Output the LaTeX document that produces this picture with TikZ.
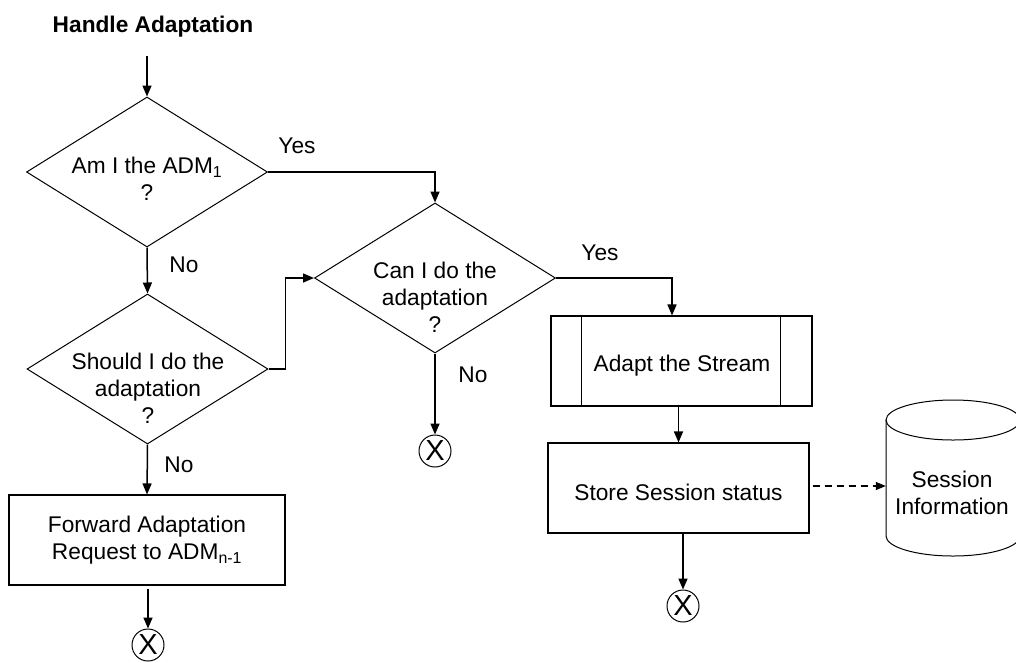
\documentclass[tikz,border=0pt]{standalone}
\usepackage{fontspec}
\setmainfont{Liberation Sans}
\usetikzlibrary{shapes.geometric,arrows.meta}
\begin{document}
\begin{tikzpicture}[x=1pt,y=-1pt,
  every node/.style={font=\fontsize{22.7}{27}\selectfont},
  decision/.style={diamond,draw,line width=1pt,minimum width=241pt,minimum height=150pt,inner sep=0pt},
  txt/.style={align=center,inner sep=0pt},
  procbox/.style={rectangle,draw,line width=1.1pt,inner sep=0pt},
  endmark/.style={circle,draw,line width=1pt,minimum size=32pt,inner sep=0pt,font=\fontsize{29}{29}\selectfont},
  flow/.style={line width=1.5pt,-{Triangle[length=11pt,width=9pt]}},
  branch/.style={inner sep=0pt}
]
\clip (0,0) rectangle (1016,662);

% title
\node[txt,font=\fontsize{22.7}{27}\selectfont\bfseries] (title) at (153,27) {Handle Adaptation};

% decisions
\node[decision] (d1) at (147,172) {};
\node[txt] (t1) at (147,178.5) {Am I the ADM\textsubscript{1}\\?};
\node[decision] (d2) at (435,278) {};
\node[txt] (t2) at (435,297) {Can I do the\\adaptation\\?};
\node[decision] (d3) at (147.5,369) {};
\node[txt] (t3) at (148,388) {Should I do the\\adaptation\\?};

% process boxes
\node[procbox,minimum width=276pt,minimum height=90pt,align=center] (fwd) at (147,540)
  {Forward Adaptation\\Request to ADM\textsubscript{n-1}};
\node[procbox,minimum width=261pt,minimum height=90pt] (adapt) at (681.5,361) {};
\node[txt] (tadapt) at (682,366) {Adapt the Stream};
\draw[line width=1.1pt] ([xshift=31pt]adapt.north west) -- ([xshift=31pt]adapt.south west);
\draw[line width=1.1pt] ([xshift=-32pt]adapt.north east) -- ([xshift=-32pt]adapt.south east);
\node[procbox,minimum width=261pt,minimum height=90pt] (store) at (678.5,488) {};
\node[txt] (tstore) at (678.5,492) {Store Session status};

% session database (cylinder)
\node[inner sep=0pt,minimum width=134pt,minimum height=116pt] (db) at (953,478) {};
\draw[line width=1pt] (953,420) ellipse [x radius=67, y radius=20];
\draw[line width=1pt] (886,420) -- (886,536) arc[start angle=180,end angle=0,x radius=67,y radius=20] -- (1020,420);
\node[txt] (tdb) at (952,493) {Session\\Information};

% end markers
\node[endmark] (c1) at (148,645) {X};
\node[endmark] (c2) at (435,451) {X};
\node[endmark] (c3) at (683,606) {X};

% connectors
\draw[flow] ([yshift=-18pt]title.south -| d1.north) -- (d1.north);
\draw[flow] (d1.east) -| (d2.north);
\draw[flow] (d1.south) -- (d3.north);
\draw[flow] (d3.east) -- ([xshift=17pt]d3.east) |- (d2.west);
\draw[flow] (d3.south) -- (fwd.north);
\draw[flow] ([yshift=-3pt]fwd.south -| c1.north) -- (c1.north);
\draw[flow] (d2.south) -- (c2.north);
\draw[flow] (d2.east) -| ([xshift=-9.5pt]adapt.north);
\draw[flow] (adapt.south -| store.north) -- (store.north);
\draw[flow] (store.south -| c3.north) -- (c3.north);
\draw[line width=1.2pt,dash pattern=on 7pt off 5pt,-{Triangle[length=10pt,width=8pt]}] ([xshift=3pt,yshift=2pt]store.east) -- ([yshift=2pt]store.east -| db.west);

% branch labels
\node[branch] (y1) at (297,146) {Yes};
\node[branch] (n1) at (184,265) {No};
\node[branch] (y2) at (600,253) {Yes};
\node[branch] (n2) at (473,375) {No};
\node[branch] (n3) at (179,465) {No};
\end{tikzpicture}
\end{document}
